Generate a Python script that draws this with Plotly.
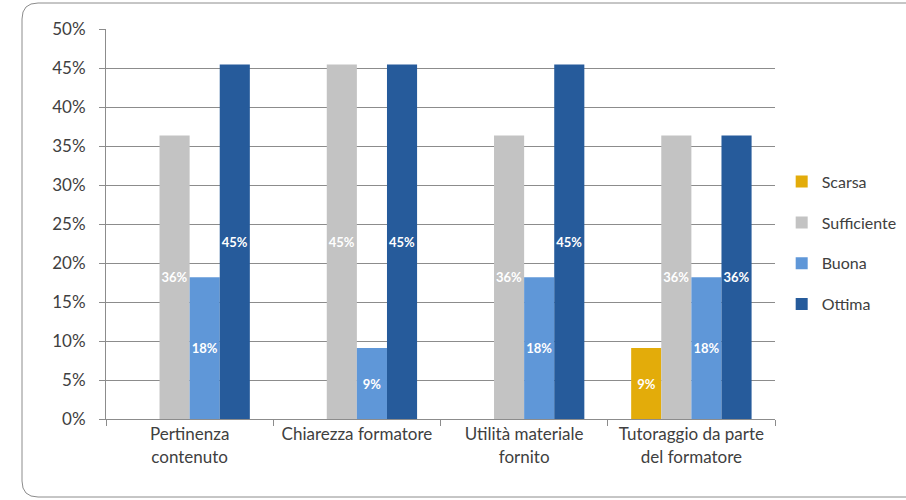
import plotly.graph_objects as go

categories = ["Pertinenza<br>contenuto", "Chiarezza formatore", "Utilità materiale<br>fornito", "Tutoraggio da parte<br>del formatore"]
series_names = ["Scarsa", "Sufficiente", "Buona", "Ottima"]
scarsa = [0, 0, 0, 9.09]
sufficiente = [36.36, 45.45, 36.36, 36.36]
buona = [18.18, 9.09, 18.18, 18.18]
ottima = [45.45, 45.45, 45.45, 36.36]
colors = ["#E3AC0A", "#C3C3C3", "#5F97D8", "#265B9B"]
y_ticks = [0, 5, 10, 15, 20, 25, 30, 35, 40, 45, 50]

W, H = 906, 500
L, R, T, B = 106, 775, 29, 419
ML, MR, MT, MB = L, W - R, T, H - B

fig = go.Figure()
for i, (name, vals) in enumerate(zip(series_names, [scarsa, sufficiente, buona, ottima])):
    txt = [f"{round(v)}%" if v > 0 else "" for v in vals]
    fig.add_trace(go.Bar(
        x=categories, y=vals, name=name, marker_color=colors[i], marker_line_width=0,
        text=txt, textposition="inside", insidetextanchor="middle", textangle=0,
        textfont=dict(color="white", size=16 if i == 0 else 13, family="Lato", weight="bold"),
        constraintext="none", legendgroup=name, hoverinfo="skip",
    ))

def px(x):
    return (x - L) / (R - L)

def py(y):
    return (B - y) / (B - T)

x0, y0, x1, y1, r = 22, 3, 910, 497, 16
path = (f"M {px(x1)},{py(y0)} L {px(x0 + r)},{py(y0)} "
        f"Q {px(x0)},{py(y0)} {px(x0)},{py(y0 + r)} "
        f"L {px(x0)},{py(y1 - r)} Q {px(x0)},{py(y1)} {px(x0 + r)},{py(y1)} "
        f"L {px(x1)},{py(y1)}")
fig.add_shape(type="path", path=path, xref="paper", yref="paper",
              line=dict(color="#8C8C8C", width=1), layer="below")

fig.update_layout(
    width=W, height=H,
    margin=dict(l=ML, r=MR, t=MT, b=MB, autoexpand=False),
    paper_bgcolor="white", plot_bgcolor="white",
    barmode="group", bargap=0.28, bargroupgap=0,
    font=dict(family="Lato", size=17, color="#404040"),
    uniformtext=dict(minsize=13, mode="show"),
    legend=dict(x=1.01, y=0.652, xanchor="left", yanchor="top",
                font=dict(size=16, color="#404040"), tracegroupgap=17,
                traceorder="grouped", itemwidth=30, bgcolor="rgba(0,0,0,0)"),
    showlegend=True,
)
fig.update_yaxes(range=[0, 50], tickvals=y_ticks, ticktext=[f"{v}%" for v in y_ticks],
                 showgrid=True, gridcolor="#8C8C8C", gridwidth=1,
                 showline=True, linecolor="#8C8C8C", linewidth=1,
                 ticks="outside", ticklen=6, tickcolor="#8C8C8C", ticklabelstandoff=10,
                 zeroline=False, tickfont=dict(size=17, color="#404040"), fixedrange=True)
fig.update_xaxes(showline=True, linecolor="#8C8C8C", linewidth=1, tickangle=0,
                 ticks="outside", ticklen=6, tickcolor="#8C8C8C", tickson="boundaries",
                 tickfont=dict(size=17, color="#404040"), fixedrange=True)

fig.write_html("out.html", config={"displayModeBar": False},
               post_script="document.body.style.margin='0';document.body.style.overflow='hidden';")
